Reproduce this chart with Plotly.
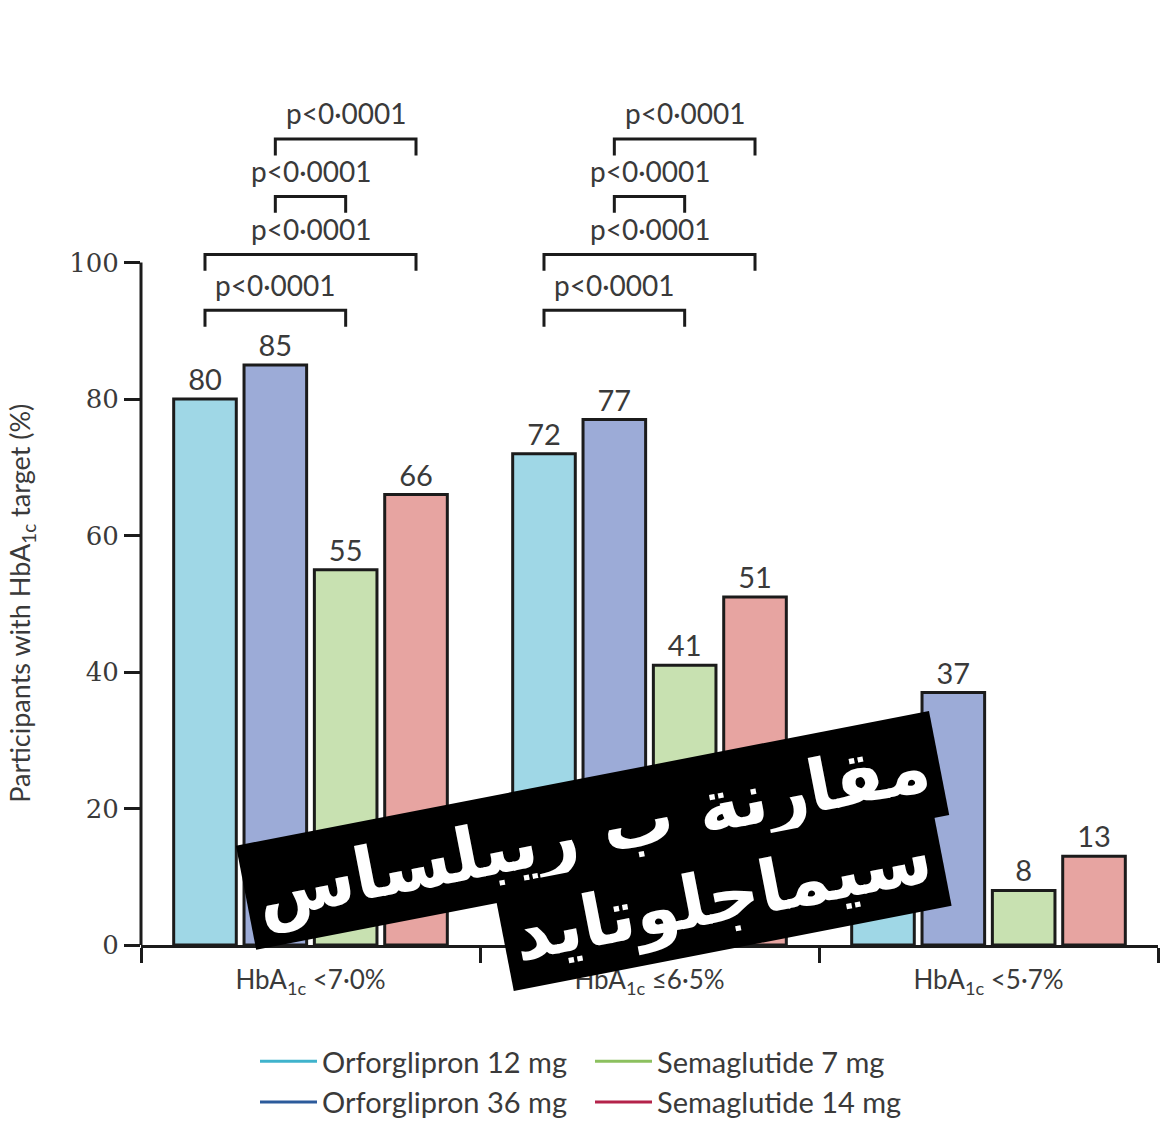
import plotly.graph_objects as go

# Datos del gráfico
categories = ["HbA<sub>1c</sub> <7·0%", "HbA<sub>1c</sub> ≤6·5%", "HbA<sub>1c</sub> <5·7%"]
series_names = ["Orforglipron 12 mg", "Orforglipron 36 mg", "Semaglutide 7 mg", "Semaglutide 14 mg"]
orf_12 = [80, 72, 25]
orf_36 = [85, 77, 37]
sema_7 = [55, 41, 8]
sema_14 = [66, 51, 13]
y_ticks = [0, 20, 40, 60, 80, 100]
p_label = "p<0·0001"
# pares de barras comparadas (índices de serie) en los dos primeros grupos
comparisons = [(0, 2), (0, 3), (1, 2), (1, 3)]

fill_colors = ["#9fd7e6", "#9cabd7", "#c8e1b1", "#e7a4a1"]
line_colors = ["#3fb3cc", "#2c5b9b", "#8cc05f", "#b4234a"]
values = [orf_12, orf_36, sema_7, sema_14]

# la página deja 8 px de margen alrededor de la figura
OFF = 8
W, H = 1170 - 2 * OFF, 1131 - 2 * OFF
L, R, T, B = 141 - OFF, 12 - OFF, 92 - OFF, 186 - OFF
Y_MAX = 125
BARGAP = 0.17
GROUPGAP = 0.11
FONT = "Lato"
TXT = "#3a3a3a"
INK = "#1b1b1b"

fig = go.Figure()

for k, name in enumerate(series_names):
    fig.add_trace(go.Bar(
        x=categories, y=values[k],
        marker=dict(color=fill_colors[k], line=dict(color=INK, width=3)),
        text=values[k], textposition="outside", cliponaxis=False,
        textfont=dict(family=FONT, size=29, color=TXT),
        showlegend=False, name=name,
    ))
    # entradas de leyenda con línea
    fig.add_trace(go.Scatter(
        x=[None], y=[None], mode="lines", name=name,
        line=dict(color=line_colors[k], width=3),
        legend="legend" if k < 2 else "legend2",
    ))

# posiciones de las barras dentro de cada grupo
slot = (1 - BARGAP) / len(series_names)


def bar_center(group, k):
    return group - (1 - BARGAP) / 2 + slot * (k + 0.5)


levels = [93, 101.2, 109.7, 118.1]
leg = 2.4
shapes = []
annotations = []
for g in range(2):
    for (a, b), lv in zip(comparisons, levels):
        x0, x1 = bar_center(g, a), bar_center(g, b)
        shapes.append(dict(
            type="path", xref="x", yref="y",
            path=f"M {x0} {lv - leg} L {x0} {lv} L {x1} {lv} L {x1} {lv - leg}",
            line=dict(color=INK, width=3),
        ))
        annotations.append(dict(
            x=(x0 + x1) / 2, y=lv + 1.0, xref="x", yref="y",
            text=p_label, showarrow=False, yanchor="bottom",
            font=dict(family=FONT, size=28, color=TXT),
        ))

# eje y dibujado sólo hasta 100
shapes.append(dict(type="line", xref="paper", yref="y", x0=0, x1=0, y0=-2.3, y1=100,
                   line=dict(color=INK, width=3)))


def px(xp, yp):
    # píxeles de la ventana -> papel
    return (xp - OFF - L) / (W - L - R), (H - B - (yp - OFF)) / (H - T - B)


tx, _ = px(22, 0)
annotations.append(dict(
    x=tx, y=50, xref="paper", yref="y", xanchor="center", yanchor="middle",
    text="Participants with HbA<sub>1c</sub> target (%)", textangle=-90,
    showarrow=False, font=dict(family=FONT, size=27, color=TXT),
))

# recuadro superpuesto en árabe
for text, (xp, yp) in [("مقارنة ب ريبلساس", (592, 830)), ("سيماجلوتايد", (722, 896))]:
    ax, ay = px(xp, yp)
    annotations.append(dict(
        x=ax, y=ay, xref="paper", yref="paper", text=f"<b>{text}</b>",
        showarrow=False, textangle=-11, bgcolor="black", borderpad=10,
        font=dict(family="DejaVu Sans", size=72, color="white"),
        xanchor="center", yanchor="middle",
    ))

lx1, ly = px(255, 1036)
lx2, _ = px(590, 1036)
legend_style = dict(y=ly, xanchor="left", yanchor="top", orientation="v",
                    font=dict(family=FONT, size=29, color=TXT), itemwidth=57,
                    bgcolor="rgba(0,0,0,0)", tracegroupgap=0)
fig.update_layout(
    width=W, height=H,
    margin=dict(l=L, r=R, t=T, b=B, autoexpand=False),
    paper_bgcolor="white", plot_bgcolor="white",
    barmode="group", bargap=BARGAP, bargroupgap=GROUPGAP,
    xaxis=dict(
        type="category", range=[-0.5, 2.5],
        showline=True, linecolor=INK, linewidth=3,
        ticks="outside", ticklen=15, tickwidth=3, tickcolor=INK, tickson="boundaries",
        ticklabelstandoff=10,
        tickfont=dict(family=FONT, size=26, color=TXT), showgrid=False, zeroline=False,
    ),
    yaxis=dict(
        range=[0, Y_MAX], tickvals=y_ticks, showline=False,
        ticks="outside", ticklen=16, tickwidth=3, tickcolor=INK,
        tickfont=dict(family="DejaVu Serif", size=26, color=TXT),
        showgrid=False, zeroline=False,
    ),
    legend=dict(x=lx1, **legend_style),
    legend2=dict(x=lx2, **legend_style),
    shapes=shapes,
    annotations=annotations,
)

fig.write_html("out.html")
